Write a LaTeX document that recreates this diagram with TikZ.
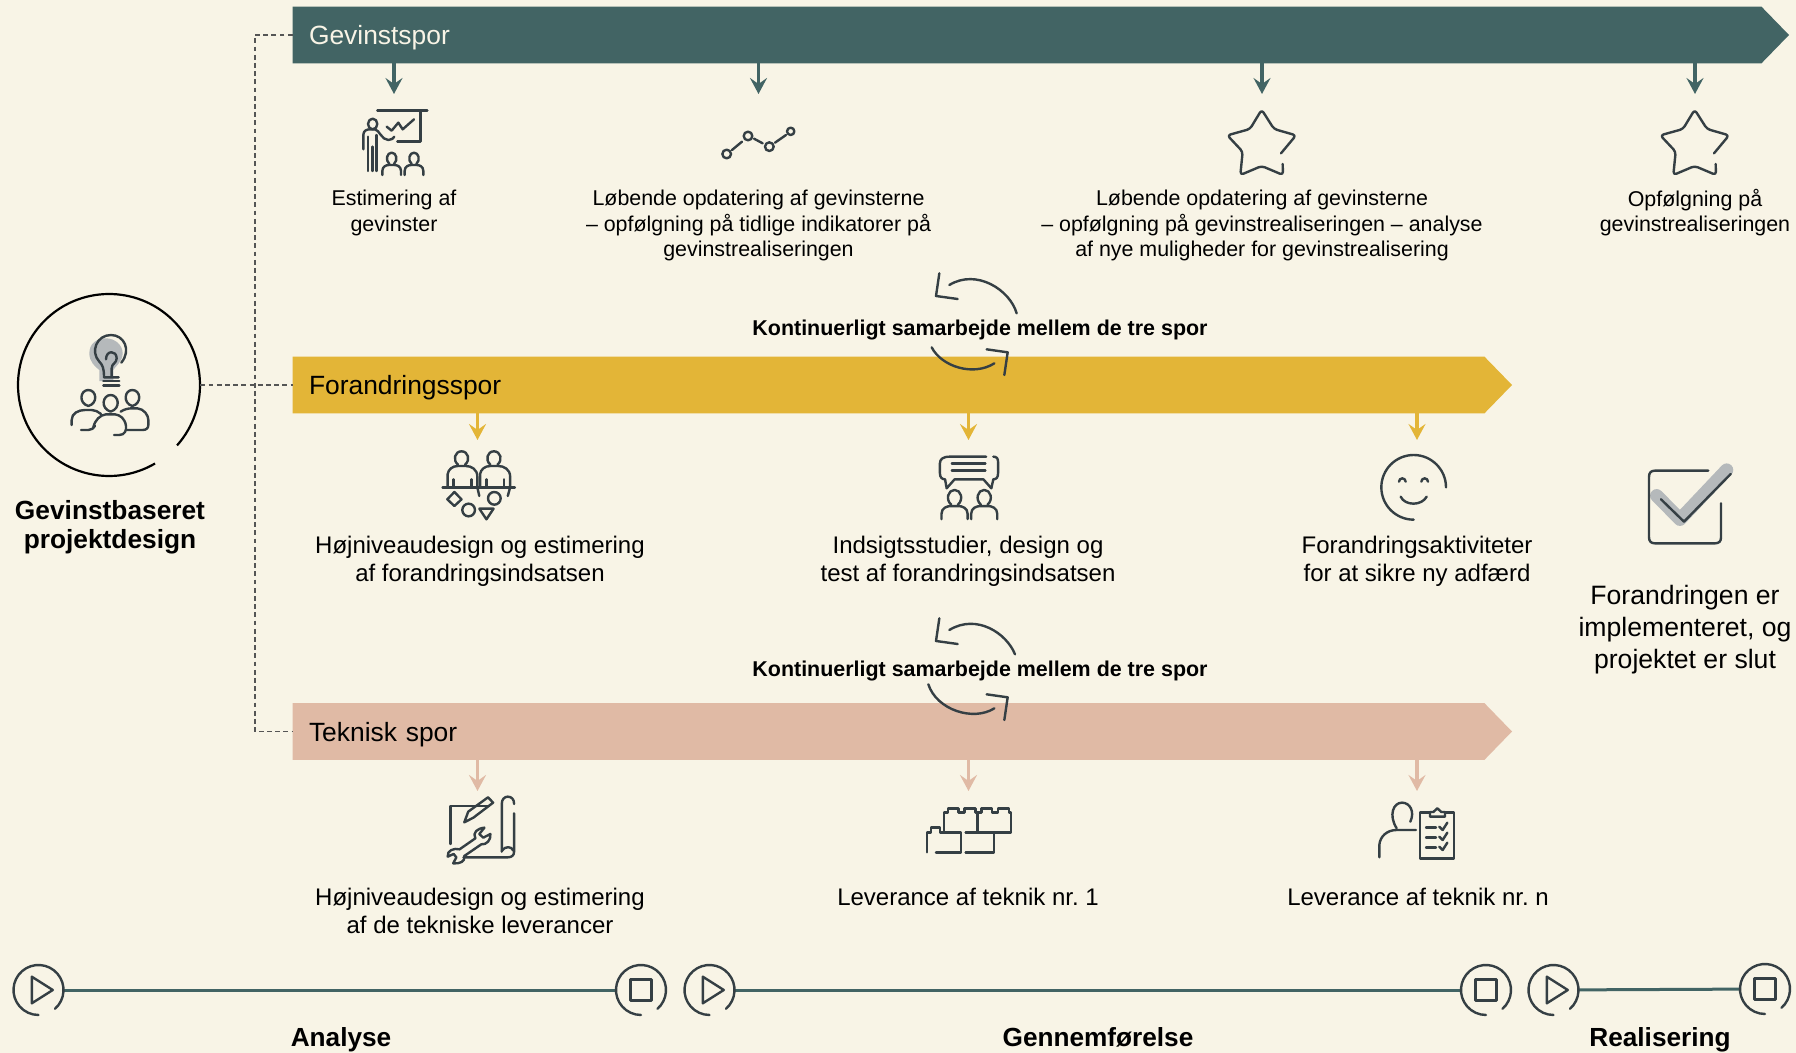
\documentclass[tikz,border=0pt]{standalone}
\usepackage{fontspec}
\setmainfont{Liberation Sans}
\usetikzlibrary{arrows.meta}
\definecolor{bgc}{HTML}{F8F4E6}
\definecolor{teal}{HTML}{426464}
\definecolor{yel}{HTML}{E3B537}
\definecolor{pinkb}{HTML}{E0BAA5}
\definecolor{icon}{HTML}{353F44}
\definecolor{greyb}{HTML}{B5B9BB}
\definecolor{dashc}{HTML}{555555}
\tikzset{
  ic/.style={draw=icon,line width=1.2pt,line cap=round,line join=round},
  zt/.style={shift={(#1)},x=0.16667pt,y=-0.16667pt},
  zw/.style={shift={(#1)},x=0.1977pt,y=-0.16667pt},
  barbox/.style={rectangle,inner xsep=8pt,inner ysep=0pt,align=left,text depth=0pt,font=\fontsize{13.2}{15}\selectfont},
  small/.style={align=center,inner sep=0pt,font=\fontsize{10.7}{12.85}\selectfont},
  mid/.style={align=center,inner sep=0pt,font=\fontsize{12}{14}\selectfont},
  big/.style={align=center,inner sep=0pt,font=\fontsize{13.3}{16}\selectfont},
  head/.style={align=center,inner sep=0pt,font=\bfseries\fontsize{13.15}{14.5}\selectfont},
  phase/.style={anchor=base,inner sep=0pt,font=\bfseries\fontsize{13.1}{15}\selectfont},
  collab/.style={inner sep=0pt,font=\bfseries\fontsize{10.72}{13}\selectfont},
  down/.style={draw=#1,line width=1.7pt,-{Stealth[width=8.5pt,length=8pt,inset=3pt]}},
  tick/.style={circle,inner sep=0pt,minimum size=25pt},
  tline/.style={draw=teal,line width=1.5pt},
  dashline/.style={draw=dashc,line width=0.55pt,dash pattern=on 2.4pt off 1.7pt},
}
\newcommand\pers[4]{%
  \begin{scope}[shift={(#1,#2)},xscale=#3,yscale=#4]
    \draw[ic] (-7,17) .. controls (-20,5) and (-14,-17) .. (0,-17) .. controls (14,-17) and (20,5) .. (7,17);
    \draw[ic] (-28,50) -- (-28,38) .. controls (-28,24) and (-16,20) .. (-8,20) -- (8,20) .. controls (16,20) and (28,24) .. (28,38) -- (28,50);
  \end{scope}}
\newcommand\staricon[1]{%
  \begin{scope}[zt={#1,60}]
    \draw[ic,rounded corners=1.6pt] (243,280) -- (288,226) -- (222,207) -- (185,149) -- (150,207) -- (82,226) -- (128,275) -- (121,345) -- (185,318) -- (249,345) -- (248,312);
  \end{scope}}
\newcommand\cycarrows{%
    \draw[ic] (118,40) -- (108,108) -- (173,117);
    \draw[ic] (260,268) -- (323,277) -- (313,345);}
\newcommand\tring[1]{%
  \draw[ic] (#1.center) ++(49:25) arc[start angle=49,end angle=-270,radius=25];}
\frenchspacing
\begin{document}
\begin{tikzpicture}[x=0.5pt,y=-0.5pt]
\useasboundingbox (0,0) rectangle (1796,1053);
\fill[bgc] (0,0) rectangle (1796,1053);

% tracks
\coordinate (gevtip) at (1789,35);
\coordinate (fortip) at (1512,385);
\coordinate (tektip) at (1512,731.5);
\node[barbox,minimum width=734pt,minimum height=28pt,text width=718pt] (gev) at (1027,35) {\phantom{x}};
\node[barbox,minimum width=595.5pt,minimum height=28pt,text width=579.5pt] (for) at (888.5,385) {\phantom{x}};
\node[barbox,minimum width=595.5pt,minimum height=28pt,text width=579.5pt] (tek) at (888.5,731.5) {\phantom{x}};
\fill[teal] (gev.north west) -- (gev.north east) -- (gevtip) -- (gev.south east) -- (gev.south west) -- cycle;
\fill[yel] (for.north west) -- (for.north east) -- (fortip) -- (for.south east) -- (for.south west) -- cycle;
\fill[pinkb] (tek.north west) -- (tek.north east) -- (tektip) -- (tek.south east) -- (tek.south west) -- cycle;
\node[barbox,text=bgc,minimum width=734pt,minimum height=28pt,text width=718pt] (gevl) at (gev.center) {Gevinstspor};
\node[barbox,text=black,minimum width=595.5pt,minimum height=28pt,text width=579.5pt] (forl) at (for.center) {Forandringsspor};
\node[barbox,text=black,minimum width=595.5pt,minimum height=28pt,text width=579.5pt] (tekl) at (tek.center) {Teknisk spor};

% hub
\node[circle,inner sep=0pt,minimum size=91pt] (hub) at (109,385) {};
\draw[black,line width=1.1pt] (hub.center) ++(41.6:91) arc[start angle=41.6,end angle=-300.4,radius=91];
\coordinate (dtop) at (255,35);
\coordinate (dbot) at (255,731.5);
\draw[dashline] (gev.west) -- (dtop) -- (dbot) -- (tek.west);
\draw[dashline] (hub.east) -- (for.west);
\node[head] (hubt) at (110,527.5) {Gevinstbaseret\\projektdesign};

% hub icon
\begin{scope}[zt={0,270}]
  \fill[greyb] (268,250) .. controls (268,220) and (290,205) .. (318,205) .. controls (345,205) and (368,225) .. (368,250) .. controls (368,275) and (345,290) .. (340,300) -- (340,333) -- (298,333) -- (298,300) .. controls (285,290) and (268,275) .. (268,250) -- cycle;
  \draw[ic] (364,278) .. controls (395,240) and (372,195) .. (333,195) .. controls (290,195) and (270,245) .. (298,275) .. controls (308,285) and (312,295) .. (312,322) -- (356,322);
  \draw[ic] (310,333) -- (358,333);
  \draw[ic] (310,347) -- (358,347);
  \draw[ic] (318,268) .. controls (318,240) and (350,240) .. (350,265) .. controls (350,280) and (335,280) .. (335,295) -- (335,320);
  \draw[ic] (265,408) .. controls (235,400) and (240,360) .. (265,360) .. controls (290,360) and (295,400) .. (265,408);
  \draw[ic] (332,425) .. controls (300,415) and (308,375) .. (332,375) .. controls (356,375) and (364,415) .. (332,425);
  \draw[ic] (397,408) .. controls (368,400) and (373,360) .. (397,360) .. controls (422,360) and (427,400) .. (397,408);
  \draw[ic] (215,465) -- (215,450) .. controls (215,430) and (235,420) .. (255,420) -- (275,420) .. controls (285,420) and (295,425) .. (303,432);
  \draw[ic] (243,480) -- (265,480) .. controls (275,480) and (280,475) .. (285,468);
  \draw[ic] (342,495) -- (358,495) .. controls (375,495) and (380,480) .. (378,468) .. controls (375,445) and (360,435) .. (345,433) -- (318,433) .. controls (300,435) and (285,450) .. (280,472);
  \draw[ic] (362,425) .. controls (372,418) and (385,415) .. (395,415) -- (412,415) .. controls (432,417) and (445,435) .. (445,450) -- (445,465) .. controls (445,475) and (438,480) .. (428,480) -- (380,480);
\end{scope}

% Gevinst column
\coordinate (ga) at (394,94);
\coordinate (gb) at (758.5,94);
\coordinate (gc) at (1262,94);
\coordinate (gd) at (1695,94);
\foreach \t in {ga,gb,gc,gd} \draw[down=teal] (gev.south -| \t) -- (\t);
\begin{scope}[zt={340,90}]
  \draw[ic] (112,62) -- (262,62);
  \draw[ic] (242,62) -- (242,155) -- (172,155);
  \draw[ic] (140,110) -- (155,122) -- (175,98) -- (188,118) -- (222,88);
  \draw[ic] (98,102) ellipse[x radius=14,y radius=16];
  \draw[ic] (70,178) -- (70,135) .. controls (70,122) and (80,118) .. (90,118) -- (105,118) .. controls (118,120) and (125,150) .. (145,150) .. controls (155,150) and (160,145) .. (163,140);
  \draw[ic] (84,243) -- (84,140);
  \draw[ic] (97,243) -- (97,170);
  \draw[ic] (110,243) -- (110,135);
  \pers{155}{205}{1}{1}
  \pers{222}{205}{1}{1}
  \draw[ic] (1160,192) circle[radius=13];
  \draw[ic] (1224,138) circle[radius=13];
  \draw[ic] (1288,170) circle[radius=13];
  \draw[ic] (1352,124) circle[radius=11];
  \draw[ic] (1176,180) -- (1206,155);
  \draw[ic] (1242,146) -- (1268,160);
  \draw[ic] (1305,158) -- (1338,135);
\end{scope}
\staricon{1200}
\staricon{1633}
\node[small] (t1) at (394,213) {Estimering af\\gevinster};
\node[small] (t2) at (758.5,225.5) {Løbende opdatering af gevinsterne\\– opfølgning på tidlige indikatorer på\\gevinstrealiseringen};
\node[small] (t3) at (1262,225.5) {Løbende opdatering af gevinsterne\\– opfølgning på gevinstrealiseringen – analyse\\af nye muligheder for gevinstrealisering};
\node[small] (t4) at (1695,212.5) {Opfølgning på\\gevinstrealiseringen};

% collaboration
\begin{scope}[zt={900,260}]
  \draw[ic] (350,160) .. controls (330,90) and (230,25) .. (148,75);
  \draw[ic] (95,262) .. controls (125,320) and (220,350) .. (283,310);
  \cycarrows
\end{scope}
\node[collab] (k1) at (980,330) {Kontinuerligt samarbejde mellem de tre spor};
\begin{scope}[zt={900,605}]
  \draw[ic] (345,148) .. controls (320,85) and (230,25) .. (148,75);
  \draw[ic] (85,238) .. controls (110,315) and (220,350) .. (283,310);
  \cycarrows
\end{scope}
\node[collab] (k2) at (980,671.5) {Kontinuerligt samarbejde mellem de tre spor};

% Forandring column
\coordinate (fa) at (477.5,440);
\coordinate (fb) at (968.5,440);
\coordinate (fc) at (1417,440);
\foreach \t in {fa,fb,fc} \draw[down=yel] (for.south -| \t) -- (\t);
\begin{scope}[zw={420,430}]
  \draw[ic] (57,172) -- (240,172);
  \draw[ic] (96,104) .. controls (82,90) and (88,64) .. (105,64) .. controls (122,64) and (128,90) .. (114,104);
  \draw[ic] (178,104) .. controls (164,90) and (170,64) .. (187,64) .. controls (204,64) and (210,90) .. (196,104);
  \draw[ic] (70,172) -- (70,132) .. controls (72,118) and (82,108) .. (96,108) -- (116,108) .. controls (130,108) and (145,118) .. (145,140) -- (145,172) -- (150,198);
  \draw[ic] (152,172) -- (152,132) .. controls (154,118) and (164,108) .. (178,108) -- (198,108) .. controls (212,108) and (228,118) .. (228,140) -- (228,172) -- (222,198);
  \draw[ic] (85,148) -- (85,172);
  \draw[ic] (130,148) -- (130,172);
  \draw[ic] (168,148) -- (168,172);
  \draw[ic] (212,148) -- (212,172);
  \draw[ic] (87,186) -- (105,208) -- (87,228) -- (69,208) -- cycle;
  \draw[ic] (123,240) ellipse[x radius=16,y radius=19];
  \draw[ic] (150,236) -- (186,236) -- (168,268) -- cycle;
  \draw[ic] (188,205) ellipse[x radius=16,y radius=19];
  % speech
  \draw[ic] (1432,80) -- (1340,80) .. controls (1322,80) and (1315,88) .. (1315,100) -- (1315,130) .. controls (1315,142) and (1320,148) .. (1328,148) -- (1332,175) -- (1352,148) -- (1425,148) -- (1445,175) -- (1450,148) .. controls (1458,148) and (1462,142) .. (1462,130) -- (1462,95) .. controls (1462,85) and (1458,80) .. (1450,80);
  \draw[ic] (1345,100) -- (1430,100);
  \draw[ic] (1345,122) -- (1430,122);
  \pers{1352}{202}{1.18}{1.31}
  \pers{1427}{202}{1.18}{1.31}
\end{scope}
\begin{scope}[zt={1350,430}]
  \draw[ic] (288,172) arc[start angle=0,end angle=-270,radius=97];
  \draw[ic] (147,155) arc[start angle=180,end angle=360,radius=10];
  \draw[ic] (214,155) arc[start angle=180,end angle=360,radius=10];
  \draw[ic] (152,200) .. controls (165,228) and (215,228) .. (230,200);
  % check
  \draw[greyb,line width=6.6pt,line cap=round,line join=round] (920,197) -- (990,268) -- (1130,120);
  \draw[ic] (1075,122) -- (915,122) .. controls (903,122) and (897,128) .. (897,140) -- (897,322) .. controls (897,334) and (903,340) .. (915,340) -- (1095,340) .. controls (1107,340) and (1113,334) .. (1113,322) -- (1113,220);
  \draw[ic] (933,208) -- (1002,275) -- (1142,132);
\end{scope}
\node[mid] (m1) at (480,561.5) {Højniveaudesign og estimering\\af forandringsindsatsen};
\node[mid] (m2) at (968,561.5) {Indsigtsstudier, design og\\test af forandringsindsatsen};
\node[mid] (m3) at (1417,561.5) {Forandringsaktiviteter\\for at sikre ny adfærd};
\node[big] (end) at (1685,630) {Forandringen er\\implementeret, og\\projektet er slut};

% Teknik column
\coordinate (ta) at (477.5,791);
\coordinate (tb) at (968.5,791);
\coordinate (tc) at (1417,791);
\foreach \t in {ta,tb,tc} \draw[down=pinkb] (tek.south -| \t) -- (\t);
\begin{scope}[zw={420,780}]
  \draw[ic] (172,78) -- (77,78) -- (77,192);
  \draw[ic] (110,232) -- (222,232) .. controls (232,232) and (238,226) .. (238,215) -- (238,100);
  \draw[ic] (207,215) -- (207,70) .. controls (207,58) and (214,50) .. (222,50) .. controls (232,50) and (238,58) .. (238,72);
  \draw[ic] (207,212) .. controls (215,198) and (232,198) .. (236,212);
  \draw[ic] (112,127) -- (122,95) -- (172,52) -- (185,68) -- (135,113) -- cycle;
  \draw[ic] (163,143) .. controls (145,145) and (132,158) .. (140,175) -- (100,208) .. controls (85,203) and (68,212) .. (70,230) -- (85,222) -- (92,232) -- (84,250) .. controls (100,252) and (115,245) .. (112,228) -- (155,193) .. controls (168,195) and (180,180) .. (178,162) -- (160,173) -- (150,162) -- cycle;
  % bricks
  \draw[ic] (1325,155) -- (1325,97) -- (1335,97) -- (1335,85) -- (1362,85) -- (1362,97) -- (1377,97) -- (1377,85) -- (1405,85) -- (1405,97) -- (1420,97) -- (1420,85) -- (1447,85) -- (1447,97) -- (1462,97) -- (1462,85) -- (1490,85) -- (1490,97) -- (1495,97) -- (1495,158) -- (1380,158);
  \draw[ic] (1410,97) -- (1410,158);
  \draw[ic] (1325,157) -- (1368,157) -- (1368,217) -- (1305,217);
  \draw[ic] (1283,217) -- (1283,158) -- (1292,158) -- (1292,142) -- (1315,142) -- (1315,157) -- (1325,157);
  \draw[ic] (1452,158) -- (1452,217) -- (1380,217);
\end{scope}
\begin{scope}[zt={1350,780}]
  \draw[ic] (181,125) .. controls (195,95) and (180,68) .. (156,68) .. controls (130,68) and (115,105) .. (140,145);
  \draw[ic] (88,232) -- (88,195) .. controls (90,170) and (110,150) .. (140,150) -- (198,150);
  \draw[ic] (240,98) -- (210,98) -- (210,236) -- (312,236) -- (312,98) -- (285,98);
  \draw[ic] (240,110) -- (240,96) -- (250,96) -- (262,85) -- (274,96) -- (285,96) -- (285,110) -- cycle;
  \draw[ic] (228,142) -- (258,142);
  \draw[ic] (228,172) -- (258,172);
  \draw[ic] (228,202) -- (258,202);
  \draw[ic] (268,140) -- (278,150) -- (292,128);
  \draw[ic] (268,170) -- (278,180) -- (292,158);
  \draw[ic] (268,200) -- (278,210) -- (292,188);
\end{scope}
\node[mid] (b1) at (480,911) {Højniveaudesign og estimering\\af de tekniske leverancer};
\node[mid] (b2) at (968,897) {Leverance af teknik nr. 1};
\node[mid] (b3) at (1418,897) {Leverance af teknik nr. n};

% timeline
\node[tick] (p1) at (38.5,990) {};
\node[tick] (s1) at (641,990) {};
\node[tick] (p2) at (709.5,990) {};
\node[tick] (s2) at (1486,990) {};
\node[tick] (p3) at (1553.5,990) {};
\node[tick] (s3) at (1765,989) {};
\draw[tline] (p1) -- (s1);
\draw[tline] (p2) -- (s2);
\draw[tline] (p3) -- (s3);
\foreach \n in {p1,s1,p2,s2,p3,s3} {\tring{\n}}
\foreach \n in {p1,p2,p3} {\draw[ic] (\n.center) ++(-6.7,-13.3) -- ++(0,26.6) -- ++(21,-13.3) -- cycle;}
\foreach \n in {s1,s2,s3} {\draw[ic] (\n.center) ++(-10.5,-10.5) rectangle ++(21,21);}
\node[phase] (an) at (341,1046.7) {Analyse};
\node[phase] (ge) at (1098,1046.7) {Gennemførelse};
\node[phase] (re) at (1660,1046.7) {Realisering};
\end{tikzpicture}
\end{document}
